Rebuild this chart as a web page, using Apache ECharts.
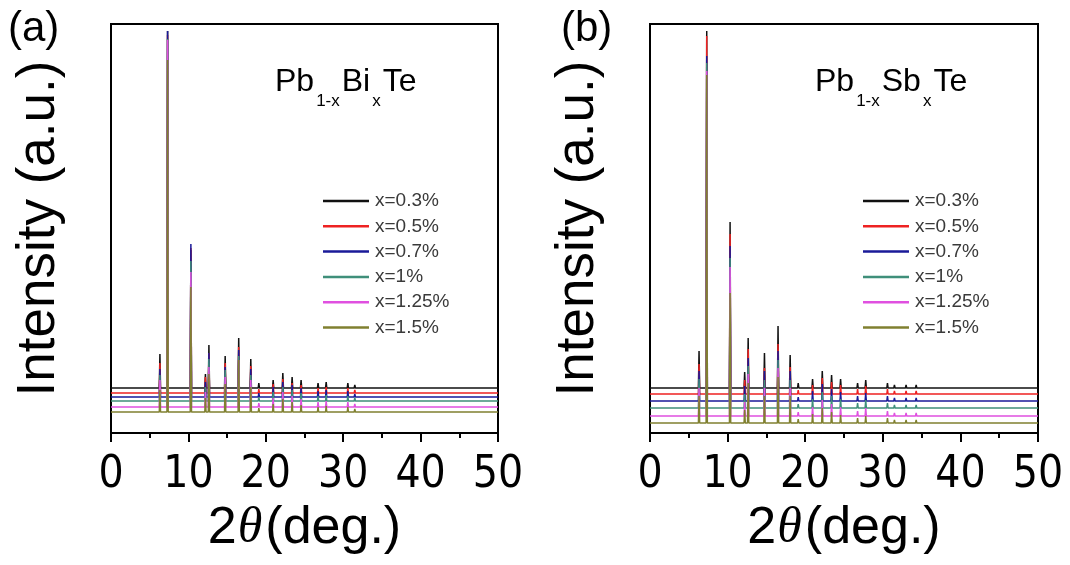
<!DOCTYPE html>
<html><head><meta charset="utf-8">
<script src="https://cdn.jsdelivr.net/npm/echarts@6/dist/echarts.min.js"></script>
<style>html,body{margin:0;padding:0;background:#fff}#c{width:1070px;height:565px}</style>
</head><body><div id="c"></div>
<script>
// ---- data ----
const seriesNames = ['x=0.3%', 'x=0.5%', 'x=0.7%', 'x=1%', 'x=1.25%', 'x=1.5%'];
const seriesColors = ['#111111', '#ee2222', '#1a1a99', '#3f8f7a', '#e050e0', '#808030'];
const xTickValues = [0, 10, 20, 30, 40, 50];
const peakPositions = [6.32, 7.31, 10.32, 12.2, 12.65, 14.75, 16.5, 18.06, 19.1, 20.95, 22.2, 23.4, 24.56, 26.75, 27.8, 30.6, 31.5, 33.0, 34.3];

// panel (a) Pb1-xBixTe : vertical offsets and peak heights (a.u.)
const biBaselines = [45, 40, 36, 32, 26, 21];
const biX03  = [34, 357, 138, 14, 43, 32, 50, 29, 5, 8, 15, 11, 8, 5, 6, 5, 3, 1, 1];
const biX05  = [30, 358, 145, 16, 40, 30, 46, 27, 4, 9, 14, 10, 8, 5, 6, 5, 3, 1, 1];
const biX07  = [28, 366, 153, 15, 44, 30, 47, 28, 4, 10, 15, 12, 9, 6, 7, 6, 3, 1, 1];
const biX1   = [26, 362, 140, 14, 42, 31, 45, 26, 4, 9, 14, 11, 8, 5, 6, 5, 3, 1, 1];
const biX125 = [27, 367, 135, 15, 40, 30, 47, 27, 4, 9, 15, 11, 8, 5, 6, 5, 3, 1, 1];
const biX15  = [22, 352, 125, 14, 38, 28, 52, 25, 4, 8, 13, 10, 7, 5, 6, 5, 3, 1, 1];

// panel (b) Pb1-xSbxTe
const sbBaselines = [45, 39, 32, 25, 17, 10];
const sbX03  = [37, 357, 166, 16, 50, 35, 62, 33, 5, 9, 17, 13, 9, 5, 8, 5, 3, 3, 3];
const sbX05  = [30, 358, 160, 14, 45, 26, 50, 27, 4, 9, 16, 12, 9, 5, 8, 5, 3, 3, 3];
const sbX07  = [30, 345, 155, 15, 43, 30, 50, 30, 4, 10, 17, 12, 9, 5, 8, 5, 3, 3, 3];
const sbX1   = [29, 345, 150, 14, 42, 28, 48, 28, 4, 9, 16, 12, 9, 5, 8, 5, 3, 3, 3];
const sbX125 = [28, 345, 149, 14, 42, 28, 48, 28, 4, 9, 16, 12, 9, 5, 8, 5, 3, 3, 3];
const sbX15  = [27, 348, 130, 13, 40, 27, 46, 27, 4, 9, 15, 11, 8, 5, 7, 5, 3, 3, 3];

const biHeights = [biX03, biX05, biX07, biX1, biX125, biX15];
const sbHeights = [sbX03, sbX05, sbX07, sbX1, sbX125, sbX15];

// ---- build ----
const HW = 0.08; // half width of a diffraction line in degrees
function pattern(base, heights) {
  const pts = [[0, base]];
  peakPositions.forEach((p, i) => {
    pts.push([p - HW, base], [p, base + heights[i]], [p + HW, base]);
  });
  pts.push([50, base]);
  return pts;
}

const FONT = 'Liberation Sans, Arial, sans-serif';
const NARROW = '"Liberation Sans Narrow", "Arial Narrow", "DejaVu Sans Condensed", Liberation Sans, sans-serif';

function xAxisFor(gridIndex) {
  return {
    type: 'value', gridIndex, min: 0, max: 50, interval: 10,
    name: '{n|2}{t|θ}{n|(deg.)}', nameLocation: 'middle', nameGap: 70,
    nameTextStyle: { rich: {
      n: { fontFamily: FONT, fontSize: 52, color: '#000' },
      t: { fontFamily: 'Liberation Serif, serif', fontStyle: 'italic', fontSize: 50, color: '#000', padding: [0, 3, 0, 1] }
    } },
    axisLine: { show: true, onZero: false, lineStyle: { color: '#000', width: 2 } },
    axisTick: { show: true, inside: false, length: 9, lineStyle: { color: '#000', width: 2 } },
    minorTick: { show: true, splitNumber: 2, length: 5, lineStyle: { color: '#000', width: 2 } },
    axisLabel: { fontFamily: NARROW, fontSize: 44, color: '#000', margin: 21 },
    splitLine: { show: false }
  };
}
function yAxisFor(gridIndex) {
  return {
    type: 'value', gridIndex, min: 0, max: 409,
    name: 'Intensity (a.u.)', nameLocation: 'middle', nameGap: 45,
    nameTextStyle: { fontFamily: FONT, fontSize: 53, color: '#000', padding: [0, 0, 0, 0] },
    axisLine: { show: true, onZero: false, lineStyle: { color: '#000', width: 2 } },
    axisTick: { show: false }, axisLabel: { show: false }, splitLine: { show: false }
  };
}

const series = [];
[[biBaselines, biHeights], [sbBaselines, sbHeights]].forEach(([bases, hs], g) => {
  seriesNames.forEach((name, i) => {
    series.push({
      type: 'line', name, xAxisIndex: g, yAxisIndex: g,
      data: pattern(bases[i], hs[i]),
      showSymbol: false, symbol: 'none', animation: false,
      lineStyle: { color: seriesColors[i], width: 1.5 },
      itemStyle: { color: seriesColors[i] }
    });
  });
});

function legendFor(left) {
  return {
    left, top: 191, orient: 'vertical', padding: 0,
    icon: 'rect', itemWidth: 46, itemHeight: 2.5, itemGap: 5.3,
    textStyle: { fontFamily: FONT, fontSize: 19, color: '#3a3a3a', lineHeight: 20, padding: [0, 0, 0, 1] },
    data: seriesNames, selectedMode: false
  };
}

function formula(el, x) {
  return {
    type: 'text', left: x, top: 66, silent: true,
    style: {
      text: '{m|Pb}{s|1-x}{m|' + el + '}{s|x}{m|Te}',
      rich: {
        m: { fontFamily: FONT, fontSize: 32, color: '#333', lineHeight: 56 },
        s: { fontFamily: FONT, fontSize: 17, color: '#333', lineHeight: 17, verticalAlign: 'bottom', padding: [0, 2, 0, 2] }
      }
    }
  };
}

const chart = echarts.init(document.getElementById('c'), null, { renderer: 'canvas' });
chart.setOption({
  backgroundColor: '#fff',
  animation: false,
  grid: [
    { left: 111, top: 24, width: 387, height: 409, show: true, borderColor: '#000', borderWidth: 2, backgroundColor: 'transparent' },
    { left: 650, top: 24, width: 388, height: 409, show: true, borderColor: '#000', borderWidth: 2, backgroundColor: 'transparent' }
  ],
  xAxis: [xAxisFor(0), xAxisFor(1)],
  yAxis: [yAxisFor(0), yAxisFor(1)],
  legend: [legendFor(323), legendFor(863)],
  graphic: [
    { type: 'text', left: 8, top: 8, silent: true, style: { text: '(a)', fontFamily: FONT, fontSize: 42, fill: '#000' } },
    { type: 'text', left: 561, top: 8, silent: true, style: { text: '(b)', fontFamily: FONT, fontSize: 42, fill: '#000' } },
    formula('Bi', 275),
    formula('Sb', 815)
  ],
  series
});
</script>
</body></html>
